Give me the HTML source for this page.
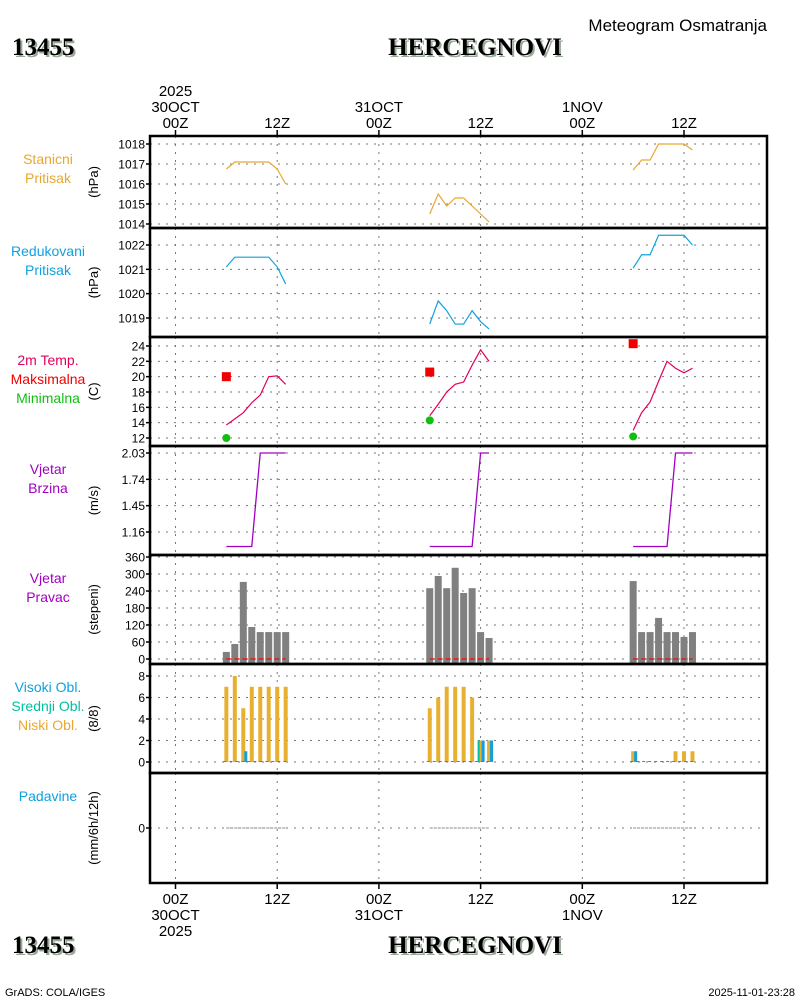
<!DOCTYPE html>
<html><head><meta charset="utf-8"><style>
body{margin:0;background:#fff;}
svg{display:block;font-family:"Liberation Sans",sans-serif;}
</style></head><body>
<svg id="c" width="800" height="1000"></svg>
<script>
// ---- data (hourly, 06Z..13Z each day) ----
const dayStarts = [6, 30, 54];            // hours since 30OCT 00Z
const presStn = [[1016.75,1017.1,1017.1,1017.1,1017.1,1017.1,1016.75,1016.0],[1014.5,1015.5,1014.9,1015.3,1015.3,1014.9,1014.5,1014.1],[1016.7,1017.2,1017.2,1018,1018,1018,1018,1017.7]];
const presRed = [[1021.1,1021.5,1021.5,1021.5,1021.5,1021.5,1021.1,1020.4],[1018.75,1019.7,1019.3,1018.75,1018.75,1019.3,1018.85,1018.55],[1021.05,1021.6,1021.6,1022.4,1022.4,1022.4,1022.4,1022]];
const temp = [[13.7,14.5,15.3,16.6,17.6,20,20.1,19],[14.9,16.4,18,19,19.3,21.5,23.5,22],[13,15.3,16.7,19.4,22,21.1,20.5,21.1]];
const tmax = [20,20.6,24.3];
const tmin = [12,14.3,12.2];
const wspd = [[1,1,1,1,2.03,2.03,2.03,2.03],[1,1,1,1,1,1,2.03,2.03],[1,1,1,1,1,2.03,2.03,2.03]];
const wdir = [[25,53,272,113,95,95,95,95],[250,293,250,322,233,250,95,74],[275,95,95,145,95,95,78,95]];
const cloudLow = [[7,8,5,7,7,7,7,7],[5,6,7,7,7,6,2,2],[1,0,0,0,0,1,1,1]];
const cloudMid = [[0,0,0,0,0,0,0,0],[0,0,0,0,0,0,2,0],[0,0,0,0,0,0,0,0]];
const cloudHigh = [[0,0,1,0,0,0,0,0],[0,0,0,0,0,0,2,2],[1,0,0,0,0,0,0,0]];
const precip = [[0,0,0,0,0,0,0,0],[0,0,0,0,0,0,0,0],[0,0,0,0,0,0,0,0]];
const ticksStn = [1014,1015,1016,1017,1018];
const ticksRed = [1019,1020,1021,1022];
const ticksTemp = [12,14,16,18,20,22,24];
const ticksWind = [1.16,1.45,1.74,2.03];
const ticksDir = [0,60,120,180,240,300,360];
const ticksCld = [0,2,4,6,8];
const ticksPr = [0];

const S = document.getElementById('c');
const NS = 'http://www.w3.org/2000/svg';
function el(t, a, txt){const e=document.createElementNS(NS,t);for(const k in a)e.setAttribute(k,a[k]);if(txt!==undefined)e.textContent=txt;S.appendChild(e);return e;}
const X0=150,X1=767;
const xh = h => 175.5 + h*(101.7/12);
function lin(v0,p0,v1,p1){return v=>p0+(v-v0)*(p1-p0)/(v1-v0);}

const panels=[
 {top:136,bot:228,y:lin(1014,224,1018,144),ticks:ticksStn,unit:'(hPa)',labels:[['Stanicni','#e8a830'],['Pritisak','#e8a830']],name:'station-pressure'},
 {top:228,bot:337,y:lin(1019,318,1022,245),ticks:ticksRed,unit:'(hPa)',labels:[['Redukovani','#10a0e0'],['Pritisak','#10a0e0']],name:'reduced-pressure'},
 {top:337,bot:446,y:lin(12,438,24,346),ticks:ticksTemp,unit:'(C)',labels:[['2m Temp.','#e0005a'],['Maksimalna','#f00000'],['Minimalna','#10c010']],name:'temperature'},
 {top:446,bot:555,y:lin(1.16,532,2.03,453),ticks:ticksWind,unit:'(m/s)',labels:[['Vjetar','#a000c0'],['Brzina','#a000c0']],name:'wind-speed'},
 {top:555,bot:664,y:lin(0,659,360,557),ticks:ticksDir,unit:'(stepeni)',labels:[['Vjetar','#a000c0'],['Pravac','#a000c0']],name:'wind-direction'},
 {top:664,bot:773,y:lin(0,762,8,676),ticks:ticksCld,unit:'(8/8)',labels:[['Visoki Obl.','#10a0e0'],['Srednji Obl.','#00c0a0'],['Niski Obl.','#e8a830']],name:'clouds'},
 {top:773,bot:883,y:lin(0,828,1,808),ticks:ticksPr,unit:'(mm/6h/12h)',labels:[['Padavine','#10a0e0']],name:'precipitation'}
];
const vx=[0,12,24,36,48,60];
panels.forEach(p=>{
  p.ticks.forEach(t=>{
    const y=p.y(t);
    el('line',{x1:X0,x2:X1,y1:y,y2:y,stroke:'#777','stroke-dasharray':'2,6',});
    el('line',{x1:X0-4,x2:X0,y1:y,y2:y,stroke:'#000','stroke-width':1.5,});
    el('text',{x:X0-5,y:y+4.5,'font-size':12,'text-anchor':'end',},String(t));
  });
  vx.forEach(h=>el('line',{x1:xh(h),x2:xh(h),y1:p.top,y2:p.bot,stroke:'#777','stroke-dasharray':'2,6',}));
  const cy=(p.top+p.bot)/2;
  el('text',{x:0,y:0,'font-size':13,'text-anchor':'middle',transform:`translate(98,${cy}) rotate(-90)`,},p.unit);
  const ly0=p.top+28;
  p.labels.forEach((l,i)=>el('text',{x:48,y:ly0+i*19,'font-size':14,'text-anchor':'middle',fill:l[1],},l[0]));
});
function line(arr,p,color,name){
  arr.forEach((d,k)=>{
    const pts=d.map((v,i)=>xh(dayStarts[k]+i)+','+p.y(v)).join(' ');
    const e=el('polyline',{points:pts,fill:'none',stroke:color,'stroke-width':1.2});
    
    
  });
}
line(presStn,panels[0],'#e8a830','station-pressure-line');
line(presRed,panels[1],'#10a0e0','reduced-pressure-line');
line(temp,panels[2],'#e0005a','temperature-line');
tmax.forEach((v,k)=>{const e=el('rect',{x:xh(dayStarts[k])-4.5,y:panels[2].y(v)-4.5,width:9,height:9,fill:'#f00000'});});
tmin.forEach((v,k)=>{const e=el('circle',{cx:xh(dayStarts[k]),cy:panels[2].y(v),r:4,fill:'#10c010'});});
wspd.forEach((d,k)=>{
  const p=panels[3];
  const pts=d.map((v,i)=>xh(dayStarts[k]+i)+','+p.y(v));
  const e=el('polyline',{points:pts.join(' '),fill:'none',stroke:'#a000c0','stroke-width':1.3});
  
});
wdir.forEach((d,k)=>{
  const p=panels[4];
  d.forEach((v,i)=>{const x=xh(dayStarts[k]+i);const e=el('rect',{x:x-3.5,y:p.y(v),width:7,height:p.y(0)-p.y(v)+4,fill:'#808080'});});
  const e=el('line',{x1:xh(dayStarts[k]),x2:xh(dayStarts[k]+7),y1:p.y(0),y2:p.y(0),stroke:'#f00','stroke-dasharray':'5,3','stroke-width':1.3});
  
});
cloudLow.forEach((d,k)=>{
  const p=panels[5];
  d.forEach((v,i)=>{
    const x=xh(dayStarts[k]+i);
    if(v>0){const e=el('rect',{x:x-2,y:p.y(v),width:4,height:p.y(0)-p.y(v),fill:'#e8b030'});}
    const m=cloudMid[k][i];
    if(m>0){const e=el('rect',{x:x-3,y:p.y(m),width:2,height:p.y(0)-p.y(m),fill:'#00c0a0'});}
    const h=cloudHigh[k][i];
    if(h>0){const e=el('rect',{x:x+1,y:p.y(h),width:3,height:p.y(0)-p.y(h),fill:'#10a0e0'});}
  });
  const e=el('line',{x1:xh(dayStarts[k])-3,x2:xh(dayStarts[k]+7)+3,y1:p.y(0)-0.5,y2:p.y(0)-0.5,stroke:'#10a0a0','stroke-dasharray':'3,3'});
  
});
precip.forEach((d,k)=>{
  const p=panels[6];
  const pts=d.map((v,i)=>xh(dayStarts[k]+i)+','+p.y(v)).join(' ');
  const e=el('polyline',{points:pts,fill:'none',stroke:'#888','stroke-width':1,'stroke-dasharray':'3,1'});
  
});
panels.forEach(p=>el('rect',{x:X0,y:p.top,width:X1-X0,height:p.bot-p.top,fill:'none',stroke:'#000','stroke-width':2.5,}));
vx.forEach(h=>{
  el('line',{x1:xh(h),x2:xh(h),y1:130,y2:136,stroke:'#000','stroke-width':1.5,});
  el('line',{x1:xh(h),x2:xh(h),y1:883,y2:889,stroke:'#000','stroke-width':1.5,});
});
const topLab=[[0,['2025','30OCT','00Z']],[12,['12Z']],[24,['31OCT','00Z']],[36,['12Z']],[48,['1NOV','00Z']],[60,['12Z']]];
topLab.forEach(([h,ls])=>ls.forEach((s,i)=>el('text',{x:xh(h),y:128-(ls.length-1-i)*16,'font-size':15,'text-anchor':'middle',},s)));
const botLab=[[0,['00Z','30OCT','2025']],[12,['12Z']],[24,['00Z','31OCT']],[36,['12Z']],[48,['00Z','1NOV']],[60,['12Z']]];
botLab.forEach(([h,ls])=>ls.forEach((s,i)=>el('text',{x:xh(h),y:904+i*16,'font-size':15,'text-anchor':'middle',},s)));
function title(txt,x,y,anchor,name){
  el('text',{x:x+2,y:y+2,'font-size':25,'font-weight':'bold','font-family':'Liberation Serif, serif','text-anchor':anchor,fill:'#9a9',
    },txt);
  el('text',{x:x,y:y,'font-size':25,'font-weight':'bold','font-family':'Liberation Serif, serif','text-anchor':anchor,fill:'#000',},txt);
}
title('13455',12,55,'start','station-id');
title('HERCEGNOVI',475,55,'middle','station-name');
title('13455',12,953,'start','station-id-bottom');
title('HERCEGNOVI',475,953,'middle','station-name-bottom');
el('text',{x:767,y:31,'font-size':17,'text-anchor':'end',},'Meteogram Osmatranja');
el('text',{x:5,y:996,'font-size':11,},'GrADS: COLA/IGES');
el('text',{x:795,y:996,'font-size':11,'text-anchor':'end',},'2025-11-01-23:28');
</script>
</body></html>
